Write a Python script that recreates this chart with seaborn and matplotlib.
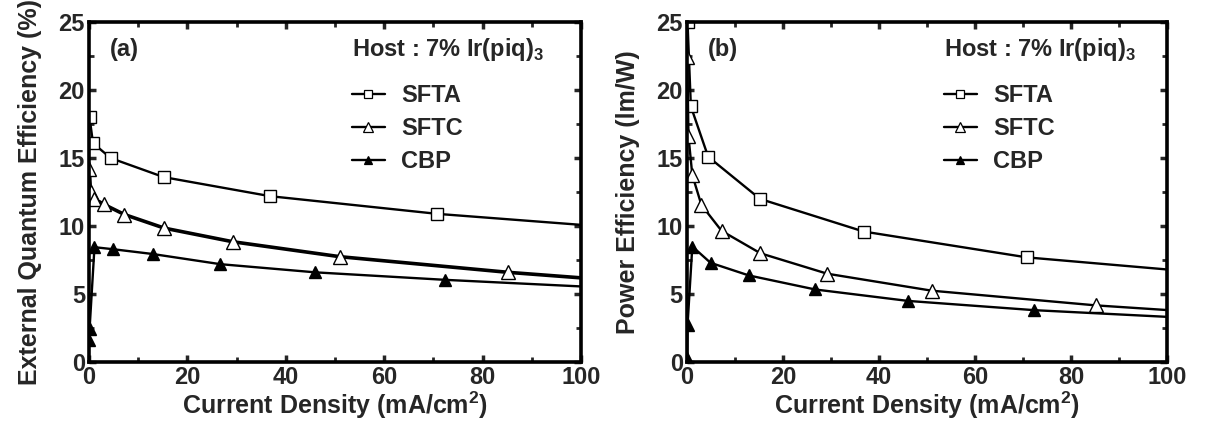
import matplotlib
matplotlib.use("Agg")
import matplotlib.pyplot as plt
from matplotlib.ticker import MultipleLocator
import seaborn as sns
import pandas as pd

# Current density (mA/cm^2) for each device
sfta_j = [0.1, 0.8, 4.4, 15.2, 36.8, 70.8, 125]
sftc_j = [0.05, 0.3, 1.1, 3.0, 7.2, 15.3, 29.2, 51.0, 85.2, 140]
cbp_j = [0.01, 0.1, 1.1, 4.9, 12.9, 26.7, 46.0, 72.3, 115]

# External quantum efficiency (%)
sfta_eqe = [18.0, 16.1, 15.0, 13.6, 12.2, 10.9, 9.4]
sftc_eqe = [14.2, 12.5, 12.0, 11.6, 10.85, 9.85, 8.85, 7.75, 6.6, 5.1]
cbp_eqe = [1.6, 2.4, 8.45, 8.3, 7.95, 7.2, 6.6, 6.05, 5.3]

# Power efficiency (lm/W)
sfta_pe = [25.0, 18.8, 15.1, 12.0, 9.6, 7.7, 6.05]
sftc_pe = [22.4, 16.6, 13.75, 11.55, 9.65, 8.0, 6.5, 5.25, 4.17, 2.9]
cbp_pe = [0.3, 2.7, 8.5, 7.3, 6.37, 5.34, 4.5, 3.82, 3.06]

devices = ["SFTA", "SFTC", "CBP"]
panel_tags = ["(a)", "(b)"]
host_text = "Host : 7% Ir(piq)$_\\mathbf{3}$"
x_label = "Current Density (mA/cm$^\\mathbf{2}$)"
y_labels = ["External Quantum Efficiency (%)", "Power Efficiency (lm/W)"]

sns.set_theme(style="ticks")
plt.rcParams["font.family"] = ["Liberation Sans", "DejaVu Sans"]
plt.rcParams["font.weight"] = "bold"
plt.rcParams["mathtext.fontset"] = "custom"
plt.rcParams["mathtext.rm"] = "Liberation Sans:bold"
plt.rcParams["mathtext.bf"] = "Liberation Sans:bold"

styles = {
    "SFTA": dict(marker="s", mfc="white", ms=8.5),
    "SFTC": dict(marker="^", mfc="white", ms=10.5),
    "CBP": dict(marker="^", mfc="black", ms=9),
}

fig = plt.figure(figsize=(12.1, 4.25), dpi=100)
ax_a = fig.add_axes([0.0736, 0.148, 0.4066, 0.800])
ax_b = fig.add_axes([0.5678, 0.148, 0.3967, 0.800])

panels = [
    (ax_a, {"SFTA": (sfta_j, sfta_eqe), "SFTC": (sftc_j, sftc_eqe), "CBP": (cbp_j, cbp_eqe)}),
    (ax_b, {"SFTA": (sfta_j, sfta_pe), "SFTC": (sftc_j, sftc_pe), "CBP": (cbp_j, cbp_pe)}),
]

for idx, (ax, series) in enumerate(panels):
    handles = []
    for name in devices:
        xs, ys = series[name]
        df = pd.DataFrame({"j": xs, "eff": ys})
        st = styles[name]
        lw = 2.6 if (idx == 0 and name == "SFTC") else 1.7
        sns.lineplot(data=df, x="j", y="eff", ax=ax, sort=False, color="black",
                     linewidth=lw, marker=st["marker"], markersize=st["ms"],
                     markerfacecolor=st["mfc"], markeredgecolor="black",
                     markeredgewidth=1.0, legend=False)
        h, = ax.plot([], [], color="black", linewidth=1.7, marker=st["marker"],
                     markersize=st["ms"] * 0.65, markerfacecolor=st["mfc"],
                     markeredgecolor="black", markeredgewidth=0.9)
        handles.append(h)

    ax.set_xlim(0, 100)
    ax.set_ylim(0, 25)
    ax.xaxis.set_major_locator(MultipleLocator(20))
    ax.xaxis.set_minor_locator(MultipleLocator(10))
    ax.yaxis.set_major_locator(MultipleLocator(5))
    ax.yaxis.set_minor_locator(MultipleLocator(2.5))
    ax.tick_params(which="both", direction="in", top=True, right=True,
                   labelsize=17, pad=3)
    ax.tick_params(which="major", length=5, width=2.5)
    ax.tick_params(which="minor", length=3.5, width=2.0)
    for lab in ax.get_xticklabels() + ax.get_yticklabels():
        lab.set_fontweight("bold")
    for sp in ax.spines.values():
        sp.set_linewidth(2.6)
        sp.set_color("black")
    ax.set_xlabel(x_label, fontsize=18, fontweight="bold", labelpad=0)
    ax.set_ylabel(y_labels[idx], fontsize=18, fontweight="bold", labelpad=12)

    ax.text(0.043, 0.918, panel_tags[idx], transform=ax.transAxes, fontsize=17,
            fontweight="bold", va="center", ha="left")
    ax.text(0.535, 0.918, host_text, transform=ax.transAxes, fontsize=17,
            fontweight="bold", va="center", ha="left")
    ax.legend(handles, devices, loc="upper left", bbox_to_anchor=(0.515, 0.845),
              frameon=False, handlelength=1.4, handletextpad=0.7,
              labelspacing=0.42, borderaxespad=0,
              prop={"size": 17, "weight": "bold"})

fig.savefig("out.png", dpi=100, facecolor="white")
